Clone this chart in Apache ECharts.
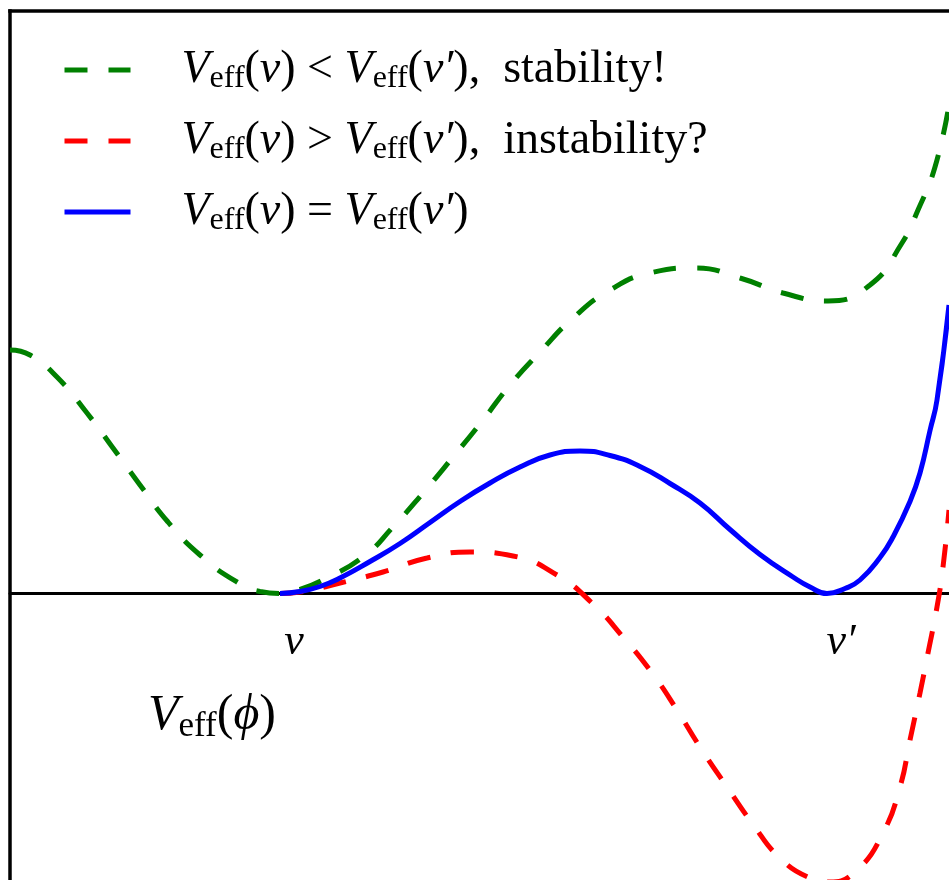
<!DOCTYPE html>
<html>
<head>
<meta charset="utf-8">
<script src="https://cdn.jsdelivr.net/npm/echarts@6/dist/echarts.min.js"></script>
<style>
  html, body { margin: 0; padding: 0; background: #fff; }
  #chart { width: 949px; height: 880px; }
</style>
</head>
<body>
<div id="chart"></div>
<script>
// Field value phi (arbitrary units) and the two vacua
const V_MIN = 2.70;      // v
const V_PRIME = 8.17;    // v'
const tickLabels = ['v', 'v\u2032'];

// V_eff(v) < V_eff(v') : stable vacuum
const phiStable = [0.00, 0.20, 0.47, 0.77, 1.03, 1.30, 1.58, 1.90, 2.27, 2.50, 2.70, 2.90, 3.13, 3.53, 3.83, 4.13, 4.43, 4.73, 5.00, 5.30, 5.63, 6.00, 6.40, 6.85, 7.30, 7.73, 8.18, 8.60, 8.92, 9.08, 9.25, 9.39];
const vStable   = [2.435, 2.385, 2.165, 1.805, 1.455, 1.085, 0.715, 0.385, 0.115, 0.02, 0.00, 0.04, 0.135, 0.365, 0.665, 1.005, 1.365, 1.735, 2.085, 2.415, 2.755, 3.035, 3.205, 3.255, 3.155, 3.005, 2.925, 3.085, 3.505, 3.835, 4.265, 4.885];

// V_eff(v) > V_eff(v') : metastable
const phiUnstable = [2.70, 2.90, 3.30, 3.73, 4.17, 4.60, 5.03, 5.47, 5.83, 6.13, 6.42, 6.67, 6.90, 7.17, 7.42, 7.70, 8.00, 8.20, 8.47, 8.73, 8.90, 9.00, 9.10, 9.18, 9.27, 9.33, 9.39];
const vUnstable   = [0.00, 0.015, 0.105, 0.215, 0.355, 0.415, 0.375, 0.185, -0.105, -0.435, -0.795, -1.165, -1.535, -1.935, -2.295, -2.645, -2.845, -2.885, -2.765, -2.395, -1.935, -1.465, -0.995, -0.595, -0.135, 0.265, 0.835];

// V_eff(v) = V_eff(v') : degenerate vacua
const phiEqual = [2.70, 2.90, 3.10, 3.30, 3.60, 3.90, 4.20, 4.50, 4.80, 5.10, 5.40, 5.70, 6.00, 6.30, 6.60, 6.90, 7.20, 7.50, 7.83, 8.00, 8.17, 8.35, 8.50, 8.70, 8.83, 9.00, 9.10, 9.20, 9.27, 9.39];
const vEqual   = [0.00, 0.02, 0.07, 0.155, 0.32, 0.50, 0.71, 0.92, 1.105, 1.265, 1.385, 1.425, 1.38, 1.27, 1.10, 0.905, 0.64, 0.39, 0.165, 0.065, 0.00, 0.05, 0.135, 0.36, 0.565, 0.92, 1.205, 1.63, 1.935, 2.885];

const zip = (xs, ys) => xs.map((x, i) => [x, ys[i]]);

const SERIF = '"Liberation Serif", "DejaVu Serif", serif';
const DASH = [23, 21];
const Y_MIN = -2.865;
const Y_MAX = 5.825;

const legendRich = {
  V: { fontFamily: SERIF, fontStyle: 'italic', fontSize: 46, lineHeight: 50, color: '#000' },
  V0: { fontFamily: SERIF, fontStyle: 'italic', fontSize: 46, lineHeight: 50, color: '#000', padding: [0, 0, 0, 46] },
  s: { fontFamily: SERIF, fontSize: 32, lineHeight: 28, verticalAlign: 'bottom', color: '#000' },
  r: { fontFamily: SERIF, fontSize: 46, lineHeight: 50, color: '#000' },
  i: { fontFamily: SERIF, fontStyle: 'italic', fontSize: 46, lineHeight: 50, color: '#000' }
};

const legendText = {
  stable: '{V0|V}{s|eff}{r|(}{i|v}{r|) < }{V|V}{s|eff}{r|(}{i|v\u2032}{r|),  stability!}',
  unstable: '{V0|V}{s|eff}{r|(}{i|v}{r|) > }{V|V}{s|eff}{r|(}{i|v\u2032}{r|),  instability?}',
  equal: '{V0|V}{s|eff}{r|(}{i|v}{r|) = }{V|V}{s|eff}{r|(}{i|v\u2032}{r|)}'
};

const chart = echarts.init(document.getElementById('chart'), null, { renderer: 'canvas' });

const hiddenAxisBits = {
  axisTick: { show: false },
  axisLabel: { show: false },
  splitLine: { show: false }
};

// grid: 10..949 horizontally, 11..880 vertically; the zero line sits at 593.5
const GRID_TOP = 11;
const GRID_H = 880 - GRID_TOP;
const zeroOffset = -(GRID_H * (-Y_MIN) / (Y_MAX - Y_MIN));

const curve = (name, xs, ys, color, type, z) => ({
  name,
  type: 'line',
  data: zip(xs, ys),
  smooth: 0.5,
  symbol: 'none',
  clip: true,
  lineStyle: { color, width: 5, type, cap: 'butt' },
  itemStyle: { color },
  z
});

chart.setOption({
  backgroundColor: '#fff',
  animation: false,
  grid: { left: 10, top: GRID_TOP, right: 0, bottom: 0, containLabel: false, outerBoundsMode: 'none' },
  xAxis: [
    {
      // phi axis drawn along V = 0, carrying the v and v' labels
      type: 'value',
      position: 'bottom',
      offset: zeroOffset,
      min: 0,
      max: 9.39,
      axisLine: { show: true, onZero: false, lineStyle: { color: '#000', width: 3 } },
      axisTick: { show: false },
      splitLine: { show: false },
      axisLabel: {
        show: true,
        customValues: [V_MIN, V_PRIME],
        formatter: (val) => (Math.abs(val - V_MIN) < 1e-6 ? tickLabels[0] : tickLabels[1]),
        fontFamily: SERIF,
        fontStyle: 'italic',
        fontSize: 44,
        color: '#000',
        margin: 27,
        padding: [0, 0, 0, 28]
      }
    },
    Object.assign({
      type: 'value',
      position: 'top',
      min: 0,
      max: 9.39,
      axisLine: { show: true, onZero: false, lineStyle: { color: '#000', width: 3.5, cap: 'square' } }
    }, hiddenAxisBits)
  ],
  yAxis: Object.assign({
    type: 'value',
    min: Y_MIN,
    max: Y_MAX,
    axisLine: { show: true, onZero: false, lineStyle: { color: '#000', width: 3.5, cap: 'square' } }
  }, hiddenAxisBits),
  legend: {
    orient: 'vertical',
    left: 62,
    top: 47,
    padding: 0,
    itemGap: 23,
    itemWidth: 66,
    itemHeight: 20,
    selectedMode: false,
    data: [
      { name: 'stable', itemStyle: { opacity: 0 }, lineStyle: { color: '#008000', width: 5, type: DASH, cap: 'butt' } },
      { name: 'unstable', itemStyle: { opacity: 0 }, lineStyle: { color: '#ff0000', width: 5, type: DASH, cap: 'butt' } },
      { name: 'equal', itemStyle: { opacity: 0 }, lineStyle: { color: '#0000ff', width: 5, type: 'solid', cap: 'butt' } }
    ],
    formatter: (name) => legendText[name],
    textStyle: { rich: legendRich, color: '#000' }
  },
  graphic: [
    {
      type: 'text',
      x: 148,
      y: 716,
      silent: true,
      style: {
        text: '{V|V}{s|eff}{r|(}{i|\u03D5}{r|)}',
        align: 'left',
        verticalAlign: 'middle',
        fill: '#000',
        rich: {
          V: { fontFamily: SERIF, fontStyle: 'italic', fontSize: 50, lineHeight: 56, fill: '#000' },
          s: { fontFamily: SERIF, fontSize: 35, lineHeight: 30, verticalAlign: 'bottom', fill: '#000' },
          r: { fontFamily: SERIF, fontSize: 50, lineHeight: 56, fill: '#000' },
          i: { fontFamily: SERIF, fontStyle: 'italic', fontSize: 50, lineHeight: 56, fill: '#000' }
        }
      }
    }
  ],
  series: [
    curve('stable', phiStable, vStable, '#008000', DASH, 3),
    curve('unstable', phiUnstable, vUnstable, '#ff0000', DASH, 2),
    curve('equal', phiEqual, vEqual, '#0000ff', 'solid', 4)
  ]
});
</script>
</body>
</html>
